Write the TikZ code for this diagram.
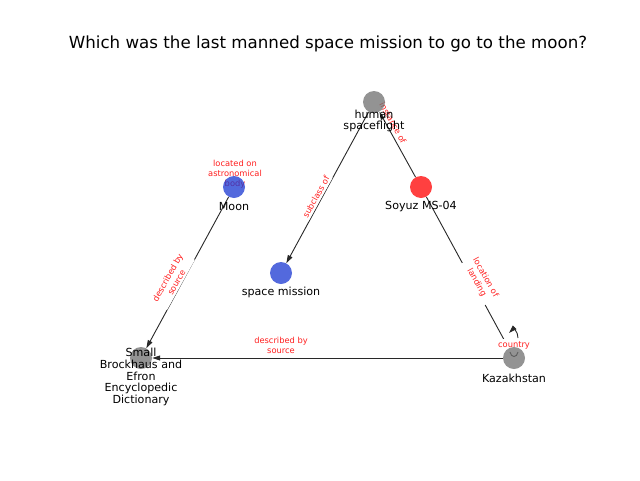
\documentclass[tikz,border=0pt]{standalone}
\usepackage{fontspec}
\setmainfont{DejaVu Sans}
\usetikzlibrary{arrows.meta}
\definecolor{ngray}{RGB}{111,111,111}
\definecolor{nblue}{RGB}{25,55,210}
\definecolor{nred}{RGB}{255,0,0}
\definecolor{edgec}{RGB}{40,40,40}
\definecolor{lblred}{RGB}{255,30,30}
\tikzset{
  vtx/.style={circle, minimum size=22pt, inner sep=0pt, opacity=0.75, draw=none},
  vlabel/.style={font=\fontsize{11.1}{11.8}\selectfont, align=center, inner sep=0pt, text=black},
  elabel/.style={font=\fontsize{8.3}{10}\selectfont, align=center, text=lblred, fill=white, inner sep=2pt},
  edge/.style={draw=edgec, line width=0.9pt, -{Triangle[length=8pt,width=5pt]}},
}
\begin{document}
\begin{tikzpicture}[x=1pt,y=-1pt]
\useasboundingbox (0,0) rectangle (640,480);
\node[font=\fontsize{16.67}{20}\selectfont] (title) at (328,44) {Which was the last manned space mission to go to the moon?};
% node coordinates
\coordinate (hs) at (374,102);
\coordinate (so) at (421,187);
\coordinate (mo) at (234,187);
\coordinate (sm) at (281,273);
\coordinate (br) at (141,358);
\coordinate (kz) at (514,358);
% invisible shapes for edge endpoints
\node[vtx] (HS) at (hs) {};
\node[vtx] (SO) at (so) {};
\node[vtx] (MO) at (mo) {};
\node[vtx] (SM) at (sm) {};
\node[vtx] (BR) at (br) {};
\node[vtx] (KZ) at (kz) {};
% edges
\draw[edge] (HS) -- (SM);
\draw[edge] (SO) -- (HS);
\draw[edge] (SO) -- (KZ);
\draw[edge] (MO) -- (BR);
\draw[edge] (KZ) -- (BR);
% self loop on Kazakhstan
\coordinate (kzl1) at (518,338);
\coordinate (kzl2) at (509,333);
\draw[edgec, line width=0.9pt] (510,352) .. controls (511,358) and (517,358) .. (518,352);
\draw[edge] (kzl1) .. controls (518,331) and (513,329) .. (kzl2);
% edge labels
\node[elabel, rotate=-61] (l1) at (393,123) {instance of};
\node[elabel, rotate=61] (l2) at (316,197) {subclass of};
\node[elabel, rotate=-61] (l3) at (481,280) {location of\\landing};
\node[elabel, rotate=61] (l4) at (172,280) {described by\\source};
\node[elabel] (l5) at (281,345) {described by\\source};
\node[elabel] (l6) at (235,174) {located on\\astronomical\\body};
\node[elabel] (l7) at (514,345) {country};
% nodes
\node[vtx, fill=ngray] (HSv) at (hs) {};
\node[vtx, fill=nred] (SOv) at (so) {};
\node[vtx, fill=nblue] (MOv) at (mo) {};
\node[vtx, fill=nblue] (SMv) at (sm) {};
\node[vtx, fill=ngray] (BRv) at (br) {};
\node[vtx, fill=ngray] (KZv) at (kz) {};
% node labels
\node[vlabel] (hst) at (374,121) {human\\spaceflight};
\node[vlabel] (sot) at (421,207) {Soyuz MS-04};
\node[vlabel] (mot) at (234,207) {Moon};
\node[vlabel] (smt) at (281,292) {space mission};
\node[vlabel] (brt) at (141,377) {Small\\Brockhaus and\\Efron\\Encyclopedic\\Dictionary};
\node[vlabel] (kzt) at (514,378) {Kazakhstan};
\end{tikzpicture}
\end{document}
